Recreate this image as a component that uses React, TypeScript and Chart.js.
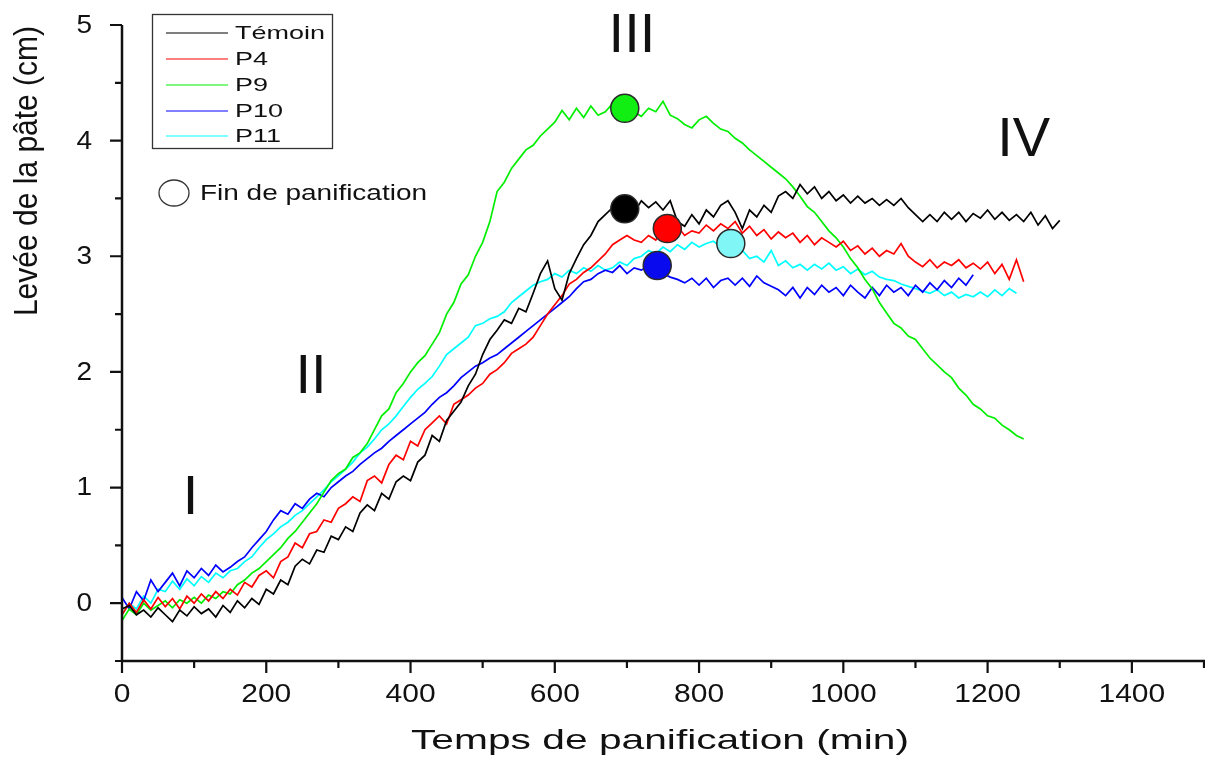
import React, { useEffect, useRef } from "react";
import { Chart, registerables } from "chart.js";

Chart.register(...registerables);

// ---- Data ----
const STEP_MIN = 10; // sampling interval of the curves (min)

const seriesNames = ["Témoin", "P4", "P9", "P10", "P11"];
const seriesColors = ["#000000", "#ff0000", "#00ee00", "#0000ff", "#00ffff"];
const markerColors = ["#000000", "#ff0000", "#11ee11", "#0a0aee", "#80f6f6"];

const temoin = [
  -0.05, -0.02, -0.1, -0.06, -0.12, -0.04, -0.1, -0.16, -0.06, -0.11,
  -0.03, -0.09, -0.05, -0.12, -0.02, -0.08, 0.02, -0.04, 0.04, -0.01,
  0.12, 0.08, 0.2, 0.16, 0.32, 0.38, 0.34, 0.46, 0.44, 0.58,
  0.55, 0.66, 0.62, 0.78, 0.85, 0.8, 0.95, 0.9, 1.05, 1.1,
  1.06, 1.22, 1.28, 1.45, 1.4, 1.58, 1.66, 1.74, 1.88, 1.98,
  2.15, 2.28, 2.36, 2.45, 2.42, 2.55, 2.52, 2.68, 2.85, 2.96,
  2.72, 2.62, 2.85, 2.98, 3.1, 3.18, 3.3, 3.36, 3.42, 3.38,
  3.45, 3.38, 3.48, 3.42, 3.47, 3.4, 3.48, 3.3, 3.26, 3.36,
  3.28, 3.4, 3.34, 3.44, 3.48, 3.38, 3.24, 3.4, 3.34, 3.44,
  3.38, 3.52, 3.56, 3.5, 3.62, 3.54, 3.6, 3.5, 3.56, 3.48,
  3.53, 3.46, 3.52, 3.46, 3.5, 3.44, 3.49, 3.44, 3.5, 3.42,
  3.36, 3.3, 3.36, 3.3, 3.38, 3.32, 3.38, 3.3, 3.37, 3.33,
  3.4, 3.32, 3.38, 3.31, 3.36, 3.3, 3.38, 3.27, 3.35, 3.24,
  3.31,
];

const p4 = [
  -0.1, 0.0, -0.08, 0.03, -0.05, 0.05, -0.03, 0.04, -0.05, 0.06,
  0.0, 0.08, 0.02, 0.1, 0.04, 0.12, 0.07, 0.18, 0.14, 0.24,
  0.28, 0.22, 0.36, 0.4, 0.52, 0.48, 0.6, 0.62, 0.72, 0.7,
  0.82, 0.86, 0.92, 0.88, 1.06, 1.1, 1.04, 1.2, 1.28, 1.24,
  1.4, 1.36, 1.5, 1.56, 1.62, 1.55, 1.72, 1.76, 1.8, 1.86,
  1.9, 1.98, 2.02, 2.08, 2.16, 2.2, 2.24, 2.3, 2.4, 2.5,
  2.58, 2.66, 2.76, 2.8, 2.86, 2.9, 2.96, 3.02, 3.1, 3.14,
  3.18, 3.14, 3.12, 3.18, 3.14, 3.22, 3.2, 3.26, 3.18, 3.22,
  3.2, 3.27, 3.22, 3.28, 3.24, 3.3, 3.2, 3.26, 3.18, 3.23,
  3.15, 3.21, 3.16, 3.2, 3.12, 3.18, 3.1, 3.16, 3.12, 3.08,
  3.13, 3.05, 3.09, 3.02, 3.07, 3.0, 3.05, 3.02, 3.11, 3.0,
  2.95, 2.91, 2.97, 2.9, 2.95, 2.92, 2.97, 2.9, 2.94, 2.89,
  2.95, 2.85, 2.93, 2.8, 2.97, 2.78,
];

const p9 = [
  -0.15, -0.05, -0.1, 0.0, -0.06, -0.02, 0.02, -0.04, 0.03, 0.0,
  0.05, 0.0, 0.07, 0.04, 0.1, 0.08, 0.16, 0.2, 0.26, 0.3,
  0.36, 0.42, 0.48, 0.56, 0.62, 0.7, 0.78, 0.86, 0.96, 1.06,
  1.12, 1.16, 1.26, 1.3, 1.38, 1.5, 1.62, 1.68, 1.82, 1.9,
  2.0, 2.08, 2.14, 2.24, 2.34, 2.5, 2.6, 2.76, 2.84, 3.0,
  3.12, 3.3, 3.56, 3.64, 3.76, 3.84, 3.92, 3.96, 4.04, 4.1,
  4.16, 4.26, 4.18, 4.28, 4.2, 4.3, 4.22, 4.25, 4.32, 4.27,
  4.3, 4.25, 4.21, 4.28, 4.25, 4.34, 4.22, 4.19, 4.14, 4.11,
  4.18, 4.21, 4.15, 4.1, 4.08, 4.02, 3.98, 3.92, 3.87, 3.82,
  3.77, 3.72, 3.67, 3.6, 3.52, 3.43, 3.38, 3.3, 3.22, 3.16,
  3.08, 2.98, 2.9, 2.8, 2.72, 2.6, 2.51, 2.42, 2.38, 2.31,
  2.28, 2.2, 2.12, 2.06, 2.0, 1.95, 1.86, 1.8, 1.72, 1.68,
  1.62, 1.6, 1.54, 1.5, 1.45, 1.42,
];

const p10 = [
  0.05, -0.05, 0.1, 0.02, 0.2, 0.1, 0.18, 0.26, 0.15, 0.28,
  0.22, 0.3, 0.24, 0.33, 0.27, 0.31, 0.36, 0.4, 0.48, 0.55,
  0.62, 0.72, 0.8, 0.77, 0.86, 0.82, 0.9, 0.95, 0.92, 1.0,
  1.05, 1.1, 1.14, 1.2, 1.25, 1.3, 1.34, 1.4, 1.45, 1.5,
  1.55, 1.6, 1.65, 1.72, 1.78, 1.82, 1.88, 1.95, 2.0, 2.05,
  2.08, 2.12, 2.15, 2.2, 2.25, 2.3, 2.35, 2.4, 2.45, 2.5,
  2.55, 2.6, 2.65, 2.72, 2.78, 2.8, 2.85, 2.88, 2.86, 2.92,
  2.85, 2.9, 2.88, 2.92, 2.9, 2.85, 2.82, 2.8, 2.77, 2.81,
  2.75, 2.81, 2.73, 2.79, 2.81, 2.75, 2.81, 2.74, 2.83, 2.77,
  2.74, 2.71, 2.66, 2.73, 2.64, 2.73, 2.67, 2.75, 2.69, 2.73,
  2.66, 2.75, 2.69, 2.64, 2.73, 2.66, 2.75, 2.69, 2.73, 2.66,
  2.75, 2.69, 2.77, 2.71, 2.79, 2.73, 2.81, 2.75, 2.84,
];

const p11 = [
  -0.1, 0.0, -0.05, 0.06, 0.0, 0.12, 0.1, 0.19, 0.12, 0.21,
  0.15, 0.23, 0.18, 0.26, 0.22, 0.28, 0.3, 0.36, 0.4, 0.48,
  0.55, 0.6, 0.66, 0.7, 0.76, 0.8, 0.86, 0.92, 0.98, 1.05,
  1.1, 1.16, 1.22, 1.3, 1.35, 1.42, 1.5, 1.55, 1.62, 1.7,
  1.78, 1.85, 1.9, 1.96, 2.05, 2.15, 2.2, 2.25, 2.3, 2.4,
  2.42, 2.46, 2.48, 2.52, 2.6, 2.65, 2.7, 2.75, 2.78, 2.8,
  2.85, 2.82, 2.88, 2.85, 2.9, 2.87, 2.92, 2.88, 2.9, 2.95,
  2.92, 2.98, 3.0, 3.05, 3.02, 3.08, 3.04, 3.1, 3.06, 3.12,
  3.08, 3.11, 3.13, 3.08, 3.12, 3.1, 3.05, 2.98, 3.0, 2.95,
  3.05, 2.92, 2.96, 2.9, 2.93, 2.88, 2.93, 2.89, 2.94, 2.88,
  2.91, 2.85, 2.89, 2.84, 2.87, 2.82, 2.8, 2.79, 2.76, 2.74,
  2.72, 2.7, 2.68, 2.71, 2.66, 2.69, 2.64, 2.67, 2.65, 2.69,
  2.65, 2.71, 2.66, 2.72, 2.68,
];

const seriesValues = [temoin, p4, p9, p10, p11];

// "Fin de panification" points, same order as seriesNames
const finTimes = [697, 756, 697, 742, 844];
const finValues = [3.41, 3.24, 4.28, 2.92, 3.11];

const xMajorTicks = [0, 200, 400, 600, 800, 1000, 1200, 1400];
const xMinorTicks = [100, 300, 500, 700, 900, 1100, 1300, 1500];
const yMajorTicks = [0, 1, 2, 3, 4, 5];
const yMinorTicks = [-0.5, 0.5, 1.5, 2.5, 3.5, 4.5];

const phaseLabels = ["I", "II", "III", "IV"];
const phaseTimes = [95, 262, 707, 1250];
const phaseValues = [0.9, 1.95, 4.9, 4.0];

const xTitle = "Temps de panification (min)";
const yTitle = "Levée de la pâte (cm)";
const finLabel = "Fin de panification";

const FONT = "'Liberation Sans', Arial, sans-serif";

function stretchedText(
  ctx: CanvasRenderingContext2D,
  text: string,
  x: number,
  y: number,
  size: number,
  sx: number,
  align: CanvasTextAlign,
  baseline: CanvasTextBaseline
) {
  ctx.save();
  ctx.font = `${size}px ${FONT}`;
  ctx.textAlign = align;
  ctx.textBaseline = baseline;
  ctx.fillStyle = "#111";
  ctx.translate(x, y);
  ctx.scale(sx, 1);
  ctx.fillText(text, 0, 0);
  ctx.restore();
}

const decorPlugin = {
  id: "decor",
  afterDraw(chart: any) {
    const ctx: CanvasRenderingContext2D = chart.ctx;
    const xs = chart.scales.x;
    const ys = chart.scales.y;
    const area = chart.chartArea;
    ctx.save();

    // axes
    ctx.strokeStyle = "#111";
    ctx.lineWidth = 2.5;
    ctx.beginPath();
    ctx.moveTo(area.left, area.top);
    ctx.lineTo(area.left, area.bottom);
    ctx.moveTo(area.left, area.bottom);
    ctx.lineTo(area.right + 1, area.bottom);
    ctx.stroke();

    ctx.lineWidth = 2.2;
    ctx.beginPath();
    for (const v of yMajorTicks) {
      const py = ys.getPixelForValue(v);
      ctx.moveTo(area.left - 12, py);
      ctx.lineTo(area.left, py);
    }
    for (const v of yMinorTicks) {
      const py = ys.getPixelForValue(v);
      ctx.moveTo(area.left - 7, py);
      ctx.lineTo(area.left, py);
    }
    for (const v of xMajorTicks) {
      const px = xs.getPixelForValue(v);
      ctx.moveTo(px, area.bottom);
      ctx.lineTo(px, area.bottom + 12);
    }
    for (const v of xMinorTicks) {
      const px = Math.min(xs.getPixelForValue(v), area.right);
      ctx.moveTo(px, area.bottom);
      ctx.lineTo(px, area.bottom + 7);
    }
    ctx.stroke();

    // tick labels
    for (const v of yMajorTicks) {
      stretchedText(ctx, String(v), area.left - 30, ys.getPixelForValue(v) + 1, 25, 1.12, "right", "middle");
    }
    for (const v of xMajorTicks) {
      stretchedText(ctx, String(v), xs.getPixelForValue(v), area.bottom + 34, 25, 1.2, "center", "middle");
    }

    // axis titles
    ctx.save();
    ctx.font = `28px ${FONT}`;
    const xw = ctx.measureText(xTitle).width;
    ctx.restore();
    stretchedText(ctx, xTitle, 660, 749, 28, 498 / xw, "center", "alphabetic");

    ctx.save();
    ctx.font = `30px ${FONT}`;
    ctx.fillStyle = "#111";
    ctx.translate(37, 171);
    ctx.scale(1.1, 1);
    ctx.rotate(-Math.PI / 2);
    ctx.textAlign = "center";
    ctx.textBaseline = "alphabetic";
    ctx.fillText(yTitle, 0, 0);
    ctx.restore();

    // phase labels
    for (let i = 0; i < phaseLabels.length; i++) {
      stretchedText(
        ctx,
        phaseLabels[i],
        xs.getPixelForValue(phaseTimes[i]),
        ys.getPixelForValue(phaseValues[i]),
        55,
        1.02,
        "center",
        "middle"
      );
    }

    // legend box
    const lx = 152.5, ly = 14.5, lw = 180, lh = 134;
    ctx.fillStyle = "#fff";
    ctx.fillRect(lx, ly, lw, lh);
    ctx.strokeStyle = "#333";
    ctx.lineWidth = 1.3;
    ctx.strokeRect(lx, ly, lw, lh);
    const rowY = [33, 59, 85, 111, 136];
    for (let i = 0; i < seriesNames.length; i++) {
      ctx.strokeStyle = seriesColors[i];
      ctx.lineWidth = 1.2;
      ctx.beginPath();
      ctx.moveTo(166, rowY[i]);
      ctx.lineTo(228, rowY[i]);
      ctx.stroke();
      stretchedText(ctx, seriesNames[i], 235, rowY[i] + 1, 19, 1.42, "left", "middle");
    }

    // "Fin de panification" key
    ctx.strokeStyle = "#333";
    ctx.lineWidth = 1.3;
    ctx.beginPath();
    ctx.ellipse(174, 193, 15, 13, 0, 0, Math.PI * 2);
    ctx.stroke();
    ctx.save();
    ctx.font = `22px ${FONT}`;
    const fw = ctx.measureText(finLabel).width;
    ctx.restore();
    stretchedText(ctx, finLabel, 200, 194, 22, 227 / fw, "left", "middle");

    ctx.restore();
  },
};

export default function App() {
  const canvasRef = useRef<HTMLCanvasElement | null>(null);

  useEffect(() => {
    document.body.style.margin = "0";
    document.body.style.overflow = "hidden";
    const canvas = canvasRef.current;
    if (!canvas) return;

    const lineSets = seriesValues.map((vals, i) => ({
      type: "line" as const,
      label: seriesNames[i],
      data: vals.map((v, k) => ({ x: k * STEP_MIN, y: v })),
      borderColor: seriesColors[i],
      backgroundColor: seriesColors[i],
      borderWidth: 1.7,
      pointRadius: 0,
      tension: 0,
      fill: false,
      order: 2,
    }));

    const markerSets = finTimes.map((t, i) => ({
      type: "scatter" as const,
      label: "Fin " + seriesNames[i],
      data: [{ x: t, y: finValues[i] }],
      backgroundColor: markerColors[i],
      borderColor: "#2a2a2a",
      borderWidth: 1.5,
      pointRadius: 14,
      pointHoverRadius: 14,
      order: 1,
    }));

    const chart = new Chart(canvas, {
      type: "line",
      data: { datasets: [...markerSets, ...lineSets] as any },
      options: {
        animation: false,
        responsive: false,
        devicePixelRatio: 1,
        events: [],
        layout: { autoPadding: false, padding: { left: 122, top: 25, right: 1, bottom: 97 } },
        scales: {
          x: { type: "linear", min: 0, max: 1500, display: false },
          y: { type: "linear", min: -0.5, max: 5, display: false },
        },
        plugins: {
          legend: { display: false },
          tooltip: { enabled: false },
        },
      },
      plugins: [decorPlugin],
    });

    return () => chart.destroy();
  }, []);

  return (
    <div style={{ width: 1205, height: 758, background: "#fff" }}>
      <canvas ref={canvasRef} width={1205} height={758} style={{ display: "block" }} />
    </div>
  );
}
